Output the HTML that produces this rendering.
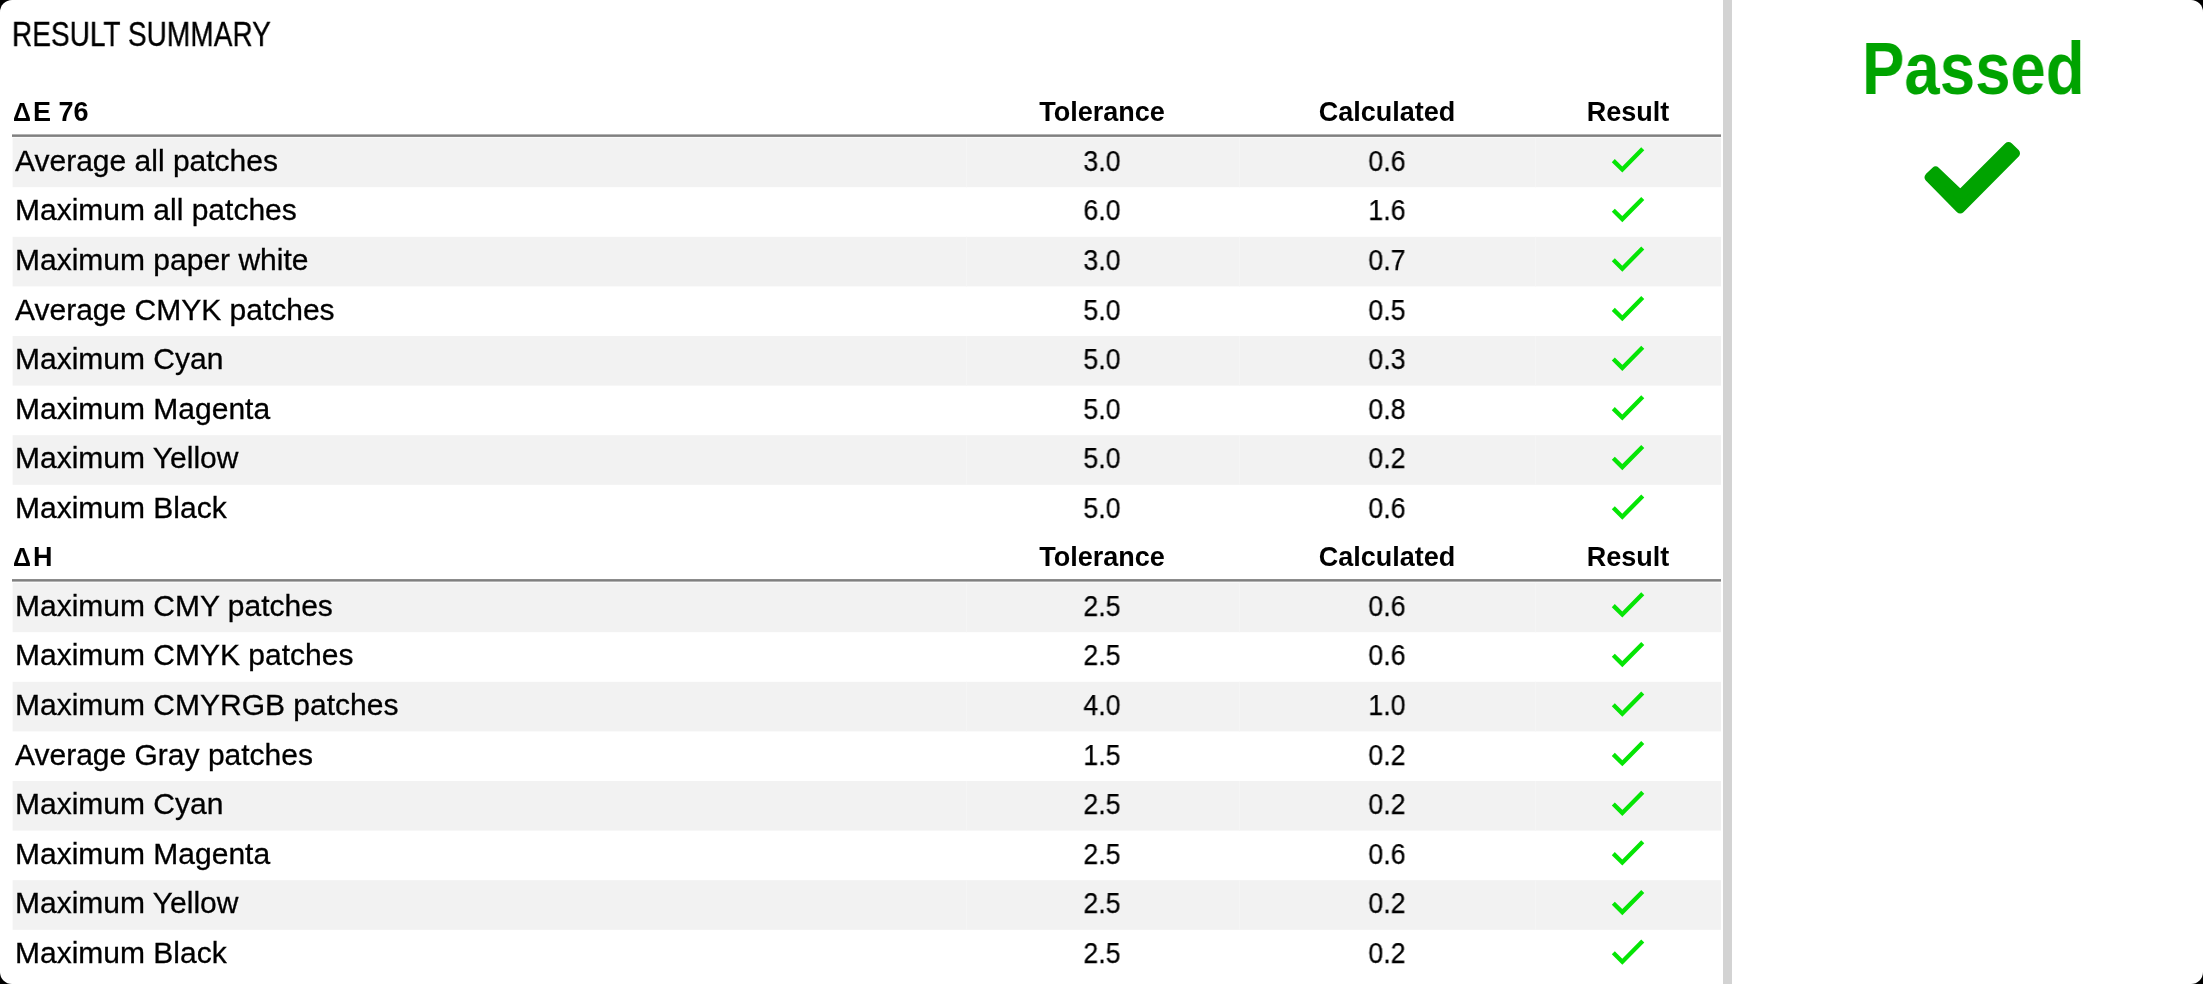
<!DOCTYPE html>
<html><head><meta charset="utf-8"><style>
html,body{margin:0;padding:0;background:#000;width:2203px;height:984px;overflow:hidden}
#pg{position:absolute;left:0;top:0;width:2203px;height:984px;background:#fff;border-radius:12px;overflow:hidden;font-family:"Liberation Sans",sans-serif;color:#000}
#bg{position:absolute;left:0;top:0}
.t{position:absolute;white-space:nowrap;line-height:0;height:0;will-change:transform}
.lbl{font-size:30px;-webkit-text-stroke:0.3px #000}
.num{font-size:29px;-webkit-text-stroke:0.25px #000;transform:scaleX(0.92);width:200px;text-align:center}
.hdr{font-size:27px;font-weight:bold}
.hc{width:400px;text-align:center}
</style></head><body><div id="pg">
<svg id="bg" width="2203" height="984" viewBox="0 0 2203 984"><rect x="12" y="134.4" width="1709" height="2.5" fill="#808080"/><rect x="12" y="579.1" width="1709" height="2.5" fill="#808080"/><rect x="12.6" y="137.60" width="1708.40" height="49.6" fill="#f2f2f2"/><rect x="966" y="137.60" width="1" height="49.6" fill="#f5f5f5"/><rect x="1239" y="137.60" width="1" height="49.6" fill="#f5f5f5"/><rect x="1535" y="137.60" width="1" height="49.6" fill="#f5f5f5"/><rect x="12.6" y="236.80" width="1708.40" height="49.6" fill="#f2f2f2"/><rect x="966" y="236.80" width="1" height="49.6" fill="#f5f5f5"/><rect x="1239" y="236.80" width="1" height="49.6" fill="#f5f5f5"/><rect x="1535" y="236.80" width="1" height="49.6" fill="#f5f5f5"/><rect x="12.6" y="336.00" width="1708.40" height="49.6" fill="#f2f2f2"/><rect x="966" y="336.00" width="1" height="49.6" fill="#f5f5f5"/><rect x="1239" y="336.00" width="1" height="49.6" fill="#f5f5f5"/><rect x="1535" y="336.00" width="1" height="49.6" fill="#f5f5f5"/><rect x="12.6" y="435.20" width="1708.40" height="49.6" fill="#f2f2f2"/><rect x="966" y="435.20" width="1" height="49.6" fill="#f5f5f5"/><rect x="1239" y="435.20" width="1" height="49.6" fill="#f5f5f5"/><rect x="1535" y="435.20" width="1" height="49.6" fill="#f5f5f5"/><rect x="12.6" y="582.60" width="1708.40" height="49.6" fill="#f2f2f2"/><rect x="966" y="582.60" width="1" height="49.6" fill="#f5f5f5"/><rect x="1239" y="582.60" width="1" height="49.6" fill="#f5f5f5"/><rect x="1535" y="582.60" width="1" height="49.6" fill="#f5f5f5"/><rect x="12.6" y="681.80" width="1708.40" height="49.6" fill="#f2f2f2"/><rect x="966" y="681.80" width="1" height="49.6" fill="#f5f5f5"/><rect x="1239" y="681.80" width="1" height="49.6" fill="#f5f5f5"/><rect x="1535" y="681.80" width="1" height="49.6" fill="#f5f5f5"/><rect x="12.6" y="781.00" width="1708.40" height="49.6" fill="#f2f2f2"/><rect x="966" y="781.00" width="1" height="49.6" fill="#f5f5f5"/><rect x="1239" y="781.00" width="1" height="49.6" fill="#f5f5f5"/><rect x="1535" y="781.00" width="1" height="49.6" fill="#f5f5f5"/><rect x="12.6" y="880.20" width="1708.40" height="49.6" fill="#f2f2f2"/><rect x="966" y="880.20" width="1" height="49.6" fill="#f5f5f5"/><rect x="1239" y="880.20" width="1" height="49.6" fill="#f5f5f5"/><rect x="1535" y="880.20" width="1" height="49.6" fill="#f5f5f5"/><rect x="1723" y="0" width="9" height="984" fill="#d3d3d3"/><polyline points="1613.3,160.60 1622.3,169.50 1642.75,148.80" fill="none" stroke="#05e505" stroke-width="4.3"/><polyline points="1613.3,210.20 1622.3,219.10 1642.75,198.40" fill="none" stroke="#05e505" stroke-width="4.3"/><polyline points="1613.3,259.80 1622.3,268.70 1642.75,248.00" fill="none" stroke="#05e505" stroke-width="4.3"/><polyline points="1613.3,309.40 1622.3,318.30 1642.75,297.60" fill="none" stroke="#05e505" stroke-width="4.3"/><polyline points="1613.3,359.00 1622.3,367.90 1642.75,347.20" fill="none" stroke="#05e505" stroke-width="4.3"/><polyline points="1613.3,408.60 1622.3,417.50 1642.75,396.80" fill="none" stroke="#05e505" stroke-width="4.3"/><polyline points="1613.3,458.20 1622.3,467.10 1642.75,446.40" fill="none" stroke="#05e505" stroke-width="4.3"/><polyline points="1613.3,507.80 1622.3,516.70 1642.75,496.00" fill="none" stroke="#05e505" stroke-width="4.3"/><polyline points="1613.3,605.60 1622.3,614.50 1642.75,593.80" fill="none" stroke="#05e505" stroke-width="4.3"/><polyline points="1613.3,655.20 1622.3,664.10 1642.75,643.40" fill="none" stroke="#05e505" stroke-width="4.3"/><polyline points="1613.3,704.80 1622.3,713.70 1642.75,693.00" fill="none" stroke="#05e505" stroke-width="4.3"/><polyline points="1613.3,754.40 1622.3,763.30 1642.75,742.60" fill="none" stroke="#05e505" stroke-width="4.3"/><polyline points="1613.3,804.00 1622.3,812.90 1642.75,792.20" fill="none" stroke="#05e505" stroke-width="4.3"/><polyline points="1613.3,853.60 1622.3,862.50 1642.75,841.80" fill="none" stroke="#05e505" stroke-width="4.3"/><polyline points="1613.3,903.20 1622.3,912.10 1642.75,891.40" fill="none" stroke="#05e505" stroke-width="4.3"/><polyline points="1613.3,952.80 1622.3,961.70 1642.75,941.00" fill="none" stroke="#05e505" stroke-width="4.3"/><polygon points="1928.99,177.37 1935.60,171.04 1960.25,194.59 2008.54,146.50 2015.52,153.25 1960.21,209.02" fill="#00a300" stroke="#00a300" stroke-width="9" stroke-linejoin="round"/></svg><div class="t" style="left:12px;top:34px;font-size:35.3px;-webkit-text-stroke:0.35px #000;transform-origin:0 0;transform:scaleX(0.795)">RESULT SUMMARY</div><div class="t hdr" style="left:13px;top:111.6px"><span style="font-size:25px;margin-right:2px">Δ</span>E 76</div><div class="t hdr hc" style="left:902.0px;top:111.6px">Tolerance</div><div class="t hdr hc" style="left:1187.0px;top:111.6px">Calculated</div><div class="t hdr hc" style="left:1428.25px;top:111.6px">Result</div><div class="t lbl" style="left:15px;top:160.80px">Average all patches</div><div class="t num" style="left:1002.00px;top:160.80px">3.0</div><div class="t num" style="left:1287.00px;top:160.80px">0.6</div><div class="t lbl" style="left:15px;top:210.40px">Maximum all patches</div><div class="t num" style="left:1002.00px;top:210.40px">6.0</div><div class="t num" style="left:1287.00px;top:210.40px">1.6</div><div class="t lbl" style="left:15px;top:260.00px">Maximum paper white</div><div class="t num" style="left:1002.00px;top:260.00px">3.0</div><div class="t num" style="left:1287.00px;top:260.00px">0.7</div><div class="t lbl" style="left:15px;top:309.60px">Average CMYK patches</div><div class="t num" style="left:1002.00px;top:309.60px">5.0</div><div class="t num" style="left:1287.00px;top:309.60px">0.5</div><div class="t lbl" style="left:15px;top:359.20px">Maximum Cyan</div><div class="t num" style="left:1002.00px;top:359.20px">5.0</div><div class="t num" style="left:1287.00px;top:359.20px">0.3</div><div class="t lbl" style="left:15px;top:408.80px">Maximum Magenta</div><div class="t num" style="left:1002.00px;top:408.80px">5.0</div><div class="t num" style="left:1287.00px;top:408.80px">0.8</div><div class="t lbl" style="left:15px;top:458.40px">Maximum Yellow</div><div class="t num" style="left:1002.00px;top:458.40px">5.0</div><div class="t num" style="left:1287.00px;top:458.40px">0.2</div><div class="t lbl" style="left:15px;top:508.00px">Maximum Black</div><div class="t num" style="left:1002.00px;top:508.00px">5.0</div><div class="t num" style="left:1287.00px;top:508.00px">0.6</div><div class="t hdr" style="left:13px;top:556.8px"><span style="font-size:25px;margin-right:2px">Δ</span>H</div><div class="t hdr hc" style="left:902.0px;top:556.8px">Tolerance</div><div class="t hdr hc" style="left:1187.0px;top:556.8px">Calculated</div><div class="t hdr hc" style="left:1428.25px;top:556.8px">Result</div><div class="t lbl" style="left:15px;top:605.80px">Maximum CMY patches</div><div class="t num" style="left:1002.00px;top:605.80px">2.5</div><div class="t num" style="left:1287.00px;top:605.80px">0.6</div><div class="t lbl" style="left:15px;top:655.40px">Maximum CMYK patches</div><div class="t num" style="left:1002.00px;top:655.40px">2.5</div><div class="t num" style="left:1287.00px;top:655.40px">0.6</div><div class="t lbl" style="left:15px;top:705.00px">Maximum CMYRGB patches</div><div class="t num" style="left:1002.00px;top:705.00px">4.0</div><div class="t num" style="left:1287.00px;top:705.00px">1.0</div><div class="t lbl" style="left:15px;top:754.60px">Average Gray patches</div><div class="t num" style="left:1002.00px;top:754.60px">1.5</div><div class="t num" style="left:1287.00px;top:754.60px">0.2</div><div class="t lbl" style="left:15px;top:804.20px">Maximum Cyan</div><div class="t num" style="left:1002.00px;top:804.20px">2.5</div><div class="t num" style="left:1287.00px;top:804.20px">0.2</div><div class="t lbl" style="left:15px;top:853.80px">Maximum Magenta</div><div class="t num" style="left:1002.00px;top:853.80px">2.5</div><div class="t num" style="left:1287.00px;top:853.80px">0.6</div><div class="t lbl" style="left:15px;top:903.40px">Maximum Yellow</div><div class="t num" style="left:1002.00px;top:903.40px">2.5</div><div class="t num" style="left:1287.00px;top:903.40px">0.2</div><div class="t lbl" style="left:15px;top:953.00px">Maximum Black</div><div class="t num" style="left:1002.00px;top:953.00px">2.5</div><div class="t num" style="left:1287.00px;top:953.00px">0.2</div><div class="t" style="left:1862px;top:69px;font-size:74px;font-weight:bold;color:#00a300;transform-origin:0 0;transform:scaleX(0.859)">Passed</div>
</div></body></html>
